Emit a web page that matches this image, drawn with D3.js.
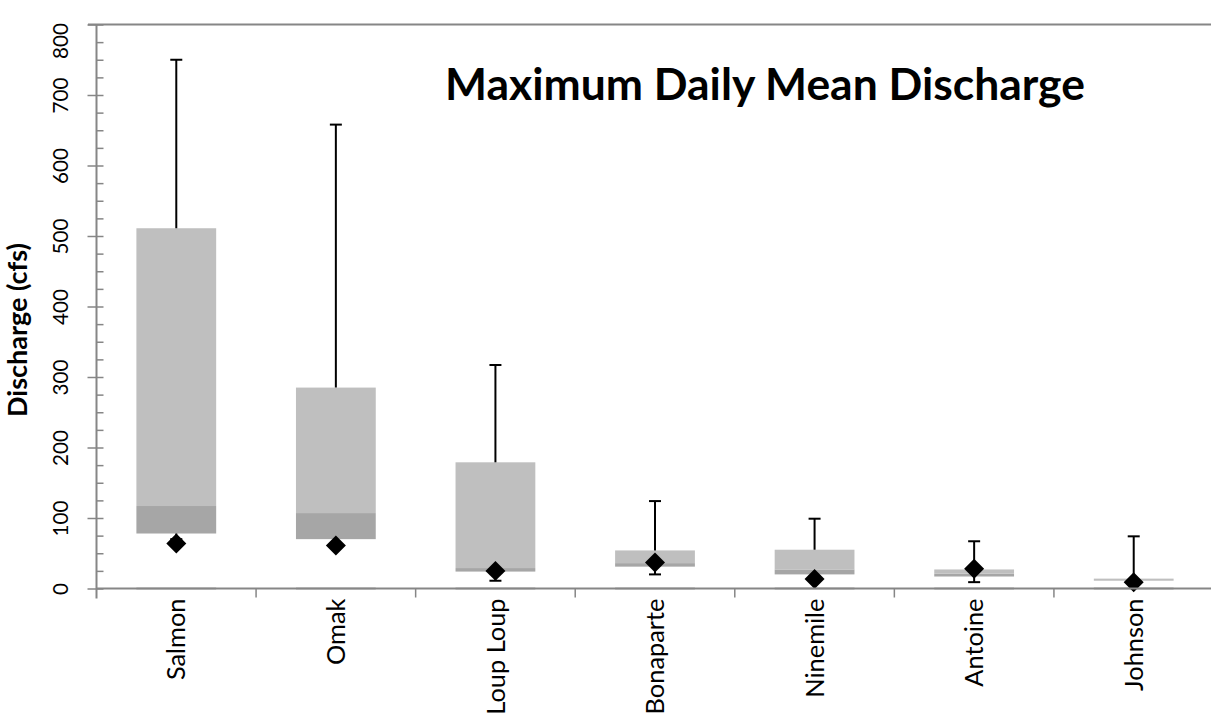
<!DOCTYPE html>
<meta charset="utf-8">
<script src="https://d3js.org/d3.v7.min.js"></script>
<style>
  body { margin: 0; background: #fff; }
</style>
<body>
<div id="chart"></div>
<script>

// box plot values (cfs)
var sites  = ["Salmon", "Omak", "Loup Loup", "Bonaparte", "Ninemile", "Antoine", "Johnson"];
var minQ   = [70, 64, 11, 20, 17, 9, 9];
var q1     = [78, 70, 24, 31, 20, 17, 11];
var median = [117, 107, 29, 36, 27, 21, 11];
var q3     = [511, 285, 179, 54, 55, 27, 14];
var maxQ   = [750, 658, 317, 124, 99, 67, 74];
var meanQ  = [64, 61, 25, 37, 13.5, 28, 9];
var yTicks = [0, 100, 200, 300, 400, 500, 600, 700, 800];

var width = 1211, height = 719;
var axisGray = "#868686";
var font = "Lato, 'Open Sans', sans-serif";

var svg = d3.select("#chart").append("svg")
    .attr("width", width)
    .attr("height", height);

// find a font size so that `sample` is `target` px long
function fitSize(sample, target, weight) {
  var t = svg.append("text")
      .attr("font-family", font)
      .attr("font-weight", weight || "normal")
      .attr("font-size", "20px")
      .text(sample);
  var len = t.node().getComputedTextLength();
  t.remove();
  return 20 * target / len;
}
var tickSize = fitSize("800", 36);
var catSize = fitSize("Bonaparte", 116);
var ytitleSize = fitSize("Discharge (cfs)", 174, "bold");

var x = d3.scaleBand()
    .domain(sites)
    .range([96.5, 1213.5]);

var y = d3.scaleLinear()
    .domain([0, 800])
    .range([588.5, 24.5]);

// top border line at 800
svg.append("line")
    .attr("x1", 88).attr("x2", width)
    .attr("y1", y(800)).attr("y2", y(800))
    .attr("stroke", axisGray).attr("stroke-width", 2);

// minor ticks every 25
var minorVals = d3.range(0, 801, 25).filter(function(v) { return v % 100 != 0; });
svg.append("g")
    .attr("transform", "translate(96.5,0)")
    .call(d3.axisRight(y).tickValues(minorVals).tickSize(7).tickFormat(""))
    .call(function(g) {
      g.select(".domain").remove();
      g.selectAll("line").attr("stroke", axisGray).attr("stroke-width", 1.5);
    });

// y axis with rotated labels
var yAxis = svg.append("g")
    .attr("transform", "translate(96.5,0)")
    .call(d3.axisLeft(y).tickValues(yTicks).tickSizeOuter(0));
yAxis.select(".domain").remove();
yAxis.selectAll(".tick line")
    .attr("x1", 7).attr("x2", -9)
    .attr("stroke", axisGray).attr("stroke-width", 1.5);
yAxis.selectAll(".tick text")
    .attr("x", null).attr("dy", null)
    .attr("transform", function(d) {
      // top label is pushed down to stay inside the chart, like the original
      var shift = d == 800 ? 16 : 0;
      return "translate(-29," + shift + ") rotate(-90)";
    })
    .attr("text-anchor", "middle")
    .attr("font-family", font)
    .attr("font-size", tickSize + "px")
    .attr("fill", "#000");
svg.append("line")
    .attr("x1", 96.5).attr("x2", 96.5)
    .attr("y1", y(800)).attr("y2", y(0) + 10)
    .attr("stroke", axisGray).attr("stroke-width", 2);

// y axis title
svg.append("text")
    .attr("transform", "translate(27,330) rotate(-90)")
    .attr("text-anchor", "middle")
    .attr("font-family", font)
    .attr("font-weight", "bold")
    .attr("font-size", ytitleSize + "px")
    .text("Discharge (cfs)");

// boxes
var bw = x.bandwidth() / 2;
var boxes = svg.append("g").selectAll("g")
    .data(sites)
  .enter().append("g");

// lower part (q1 -> median) darker
boxes.append("rect")
    .attr("x", function(d) { return x(d) + x.bandwidth() / 2 - bw / 2; })
    .attr("width", bw)
    .attr("y", function(d, i) { return y(median[i]); })
    .attr("height", function(d, i) { return y(q1[i]) - y(median[i]); })
    .attr("fill", "#a6a6a6");

// upper part (median -> q3) lighter
boxes.append("rect")
    .attr("x", function(d) { return x(d) + x.bandwidth() / 2 - bw / 2; })
    .attr("width", bw)
    .attr("y", function(d, i) { return y(q3[i]); })
    .attr("height", function(d, i) { return y(median[i]) - y(q3[i]); })
    .attr("fill", "#bfbfbf");

// x axis
svg.append("line")
    .attr("x1", 96.5).attr("x2", width)
    .attr("y1", y(0)).attr("y2", y(0))
    .attr("stroke", axisGray).attr("stroke-width", 2);
// base bars outline sits on axis (lighter)
boxes.append("line")
    .attr("x1", function(d) { return x(d) + x.bandwidth() / 2 - bw / 2; })
    .attr("x2", function(d) { return x(d) + x.bandwidth() / 2 + bw / 2; })
    .attr("y1", y(0)).attr("y2", y(0))
    .attr("stroke", "#b2b2b2").attr("stroke-width", 2);

var xAxis = svg.append("g")
    .attr("transform", "translate(0," + y(0) + ")")
    .call(d3.axisBottom(x).tickSize(0).tickSizeOuter(0));
xAxis.select(".domain").remove();
xAxis.selectAll(".tick text")
    .attr("y", null).attr("dy", null)
    .attr("transform", "translate(0,10) rotate(-90)")
    .attr("dy", "0.36em")
    .attr("text-anchor", "end")
    .attr("font-family", font)
    .attr("font-size", catSize + "px")
    .attr("fill", "#000");
// boundary ticks between categories
svg.append("g").selectAll("line")
    .data(sites.slice(1))
  .enter().append("line")
    .attr("x1", function(d) { return x(d); })
    .attr("x2", function(d) { return x(d); })
    .attr("y1", y(0)).attr("y2", y(0) + 9)
    .attr("stroke", axisGray).attr("stroke-width", 1.5);

// whiskers
var cap = 6;
function whisker(from, to) {
  boxes.append("line")
      .attr("x1", function(d) { return x(d) + x.bandwidth() / 2; })
      .attr("x2", function(d) { return x(d) + x.bandwidth() / 2; })
      .attr("y1", function(d, i) { return y(from[i]); })
      .attr("y2", function(d, i) { return y(to[i]); })
      .attr("stroke", "#000").attr("stroke-width", 2);
  boxes.append("line")
      .attr("x1", function(d) { return x(d) + x.bandwidth() / 2 - cap; })
      .attr("x2", function(d) { return x(d) + x.bandwidth() / 2 + cap; })
      .attr("y1", function(d, i) { return y(to[i]); })
      .attr("y2", function(d, i) { return y(to[i]); })
      .attr("stroke", "#000").attr("stroke-width", 2);
}
whisker(q3, maxQ);
whisker(q1, minQ);

// mean markers
boxes.append("path")
    .attr("d", d3.symbol().type(d3.symbolSquare).size(200))
    .attr("transform", function(d, i) {
      return "translate(" + (x(d) + x.bandwidth() / 2) + "," + y(meanQ[i]) + ") rotate(45)";
    })
    .attr("fill", "#000");

// title
var title = svg.append("text")
    .attr("x", 765)
    .attr("y", 100)
    .attr("text-anchor", "middle")
    .attr("font-family", font)
    .attr("font-weight", "bold")
    .attr("font-size", fitSize("Maximum Daily Mean Discharge", 640, "bold") + "px")
    .text("Maximum Daily Mean Discharge");

</script>
</body>
